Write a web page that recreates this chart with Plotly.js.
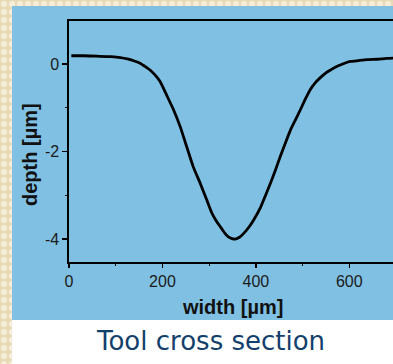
<!DOCTYPE html>
<html>
<head>
<meta charset="utf-8">
<script src="https://cdn.plot.ly/plotly-3.0.1.min.js"></script>
<style>
  html, body { margin: 0; padding: 0; width: 393px; height: 364px; overflow: hidden; background: #ffffff; position: relative; }
  .beige { position: absolute; background-color: #e9dab7;
        background-image: radial-gradient(circle at 50% 50%, #f6eed9 0, #f6eed9 2.5px, rgba(0,0,0,0) 3.5px);
        background-size: 8px 8px; }
  #left { left: 0; top: 0; width: 12px; height: 364px; }
  #top { left: 0; top: 0; width: 393px; height: 6px; }
  #panel { position: absolute; left: 12px; top: 6px; width: 381px; height: 314px; background: #80c1e3; }
  #chart { position: absolute; left: 12px; top: 6px; width: 400px; height: 358px; }
</style>
</head>
<body>
<div id="left" class="beige"></div>
<div id="top" class="beige"></div>
<div id="panel"></div>
<div id="chart"></div>
<script>
const widthUm = [5, 30, 60, 90, 110, 125, 140, 152, 165, 174,
  185, 195, 209, 224, 238, 252, 266, 281, 295, 306,
  315, 324, 333, 341, 349, 356, 365, 374, 385, 395,
  409, 420, 431, 442, 452, 463, 474, 485, 495, 505,
  516, 527, 538, 550, 559, 570, 581, 590, 602, 620,
  638, 660, 680, 700];
const depthUm = [0.19, 0.19, 0.18, 0.17, 0.15, 0.12, 0.07, 0.02, -0.07, -0.14,
  -0.26, -0.40, -0.71, -1.05, -1.43, -1.89, -2.35, -2.73, -3.11, -3.41,
  -3.58, -3.72, -3.86, -3.95, -3.99, -4.00, -3.96, -3.87, -3.73, -3.57,
  -3.30, -3.02, -2.73, -2.42, -2.12, -1.81, -1.51, -1.27, -1.05, -0.82,
  -0.59, -0.43, -0.31, -0.20, -0.14, -0.07, -0.02, 0.02, 0.06, 0.08,
  0.10, 0.11, 0.13, 0.14];
const yTickVals = [0, -2, -4];
const yTickText = ['0', '-2', '-4'];
const xTitle = 'width [µm]';
const yTitle = 'depth [µm]';
const caption = 'Tool cross section';

const panelBlue = '#80c1e3';
const W = 400, H = 358;
const m = {l: 57, r: 16, t: 15, b: 102};
const pw = W - m.l - m.r, ph = H - m.t - m.b;
const px = (abs) => (abs - 12 - m.l) / pw;
const py = (abs) => 1 - (abs - 6 - m.t) / ph;

const trace = {
  x: widthUm, y: depthUm, type: 'scatter', mode: 'lines',
  line: {color: '#000000', width: 2.8, shape: 'spline', smoothing: 0.5},
  hoverinfo: 'skip'
};

const axisFont = {family: 'Liberation Sans, Arial, sans-serif', size: 16, color: '#1a1a1a'};

const layout = {
  width: W, height: H,
  margin: m,
  paper_bgcolor: 'rgba(0,0,0,0)',
  plot_bgcolor: panelBlue,
  showlegend: false,
  xaxis: {
    range: [0, 700], dtick: 200, tick0: 0,
    showgrid: false, zeroline: false,
    showline: true, linecolor: '#000', linewidth: 1.6, mirror: true,
    ticks: 'outside', ticklen: 4, tickwidth: 1.4, tickcolor: '#000',
    minor: {dtick: 100, ticks: 'outside', ticklen: 2.5, tickwidth: 1.2, tickcolor: '#000'},
    tickfont: axisFont
  },
  yaxis: {
    range: [-4.525, 0.985], tickmode: 'array', tickvals: yTickVals, ticktext: yTickText,
    showgrid: false, zeroline: false,
    showline: true, linecolor: '#000', linewidth: 1.6, mirror: true,
    ticks: 'outside', ticklen: 5, tickwidth: 1.4, tickcolor: '#000',
    minor: {tickmode: 'linear', tick0: 0, dtick: 1, ticks: 'outside', ticklen: 2.5, tickwidth: 1.2, tickcolor: '#000'},
    tickfont: axisFont
  },
  annotations: [
    {text: '<b>' + xTitle + '</b>', xref: 'paper', yref: 'paper', x: px(232), y: py(307),
     xanchor: 'center', yanchor: 'middle', showarrow: false,
     font: {family: 'Liberation Sans, Arial, sans-serif', size: 20, color: '#111'}},
    {text: '<b>' + yTitle + '</b>', xref: 'paper', yref: 'paper', x: px(30), y: py(155),
     xanchor: 'center', yanchor: 'middle', showarrow: false, textangle: -90,
     font: {family: 'Liberation Sans, Arial, sans-serif', size: 20, color: '#111'}},
    {text: caption, xref: 'paper', yref: 'paper', x: px(210), y: py(341),
     xanchor: 'center', yanchor: 'middle', showarrow: false,
     font: {family: 'DejaVu Sans, Verdana, sans-serif', size: 26, color: '#123f6c'}}
  ]
};

Plotly.newPlot('chart', [trace], layout, {staticPlot: true, displayModeBar: false});
</script>
</body>
</html>
